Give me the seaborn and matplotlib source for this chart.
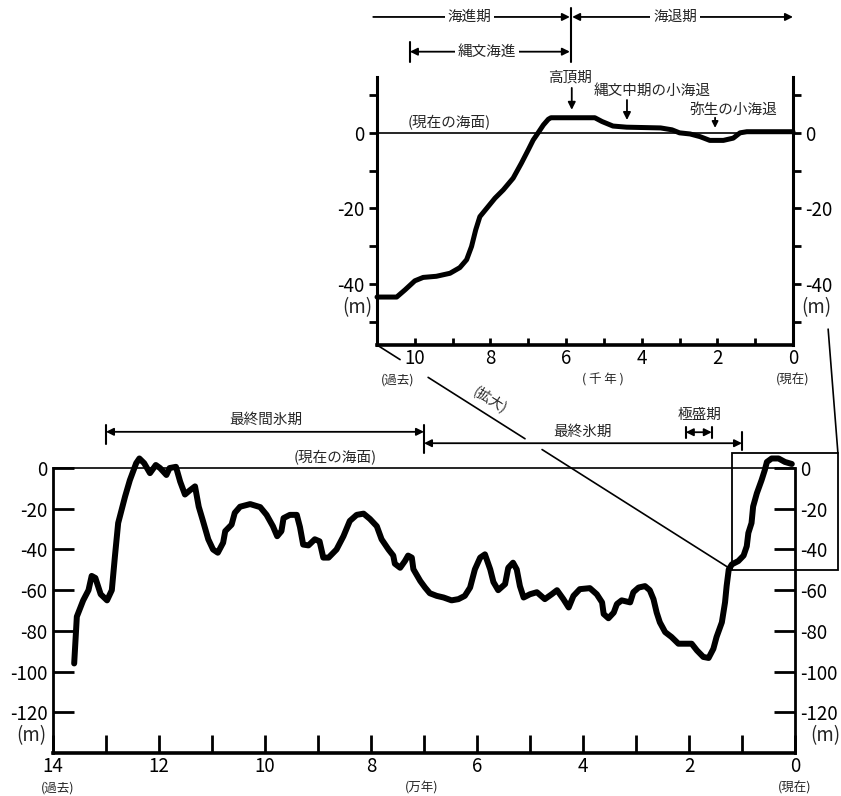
import matplotlib
matplotlib.use('Agg')
import matplotlib.pyplot as plt
import seaborn as sns
import pandas as pd
from matplotlib.patches import Rectangle, ConnectionPatch
from matplotlib.lines import Line2D

# 過去14万年の海水準変動 (万年前, m)
main_t = [13.60, 13.55, 13.43, 13.33, 13.27, 13.20, 13.10, 12.98, 12.89, 12.83,
          12.77, 12.64, 12.55, 12.43, 12.37, 12.28, 12.17, 12.06, 11.98, 11.86,
          11.80, 11.68, 11.60, 11.51, 11.42, 11.32, 11.25, 11.17, 11.07, 10.98,
          10.89, 10.79, 10.75, 10.63, 10.57, 10.47, 10.28, 10.09, 9.97, 9.85,
          9.77, 9.69, 9.65, 9.53, 9.40, 9.34, 9.28, 9.18, 9.06, 8.97,
          8.90, 8.80, 8.65, 8.52, 8.40, 8.27, 8.14, 8.02, 7.89, 7.80,
          7.67, 7.58, 7.55, 7.45, 7.36, 7.30, 7.23, 7.20, 7.07, 6.98,
          6.89, 6.76, 6.63, 6.48, 6.35, 6.23, 6.13, 6.04, 5.94, 5.85,
          5.75, 5.69, 5.60, 5.47, 5.41, 5.32, 5.25, 5.19, 5.12, 5.00,
          4.87, 4.72, 4.59, 4.49, 4.37, 4.27, 4.18, 4.06, 3.87, 3.74,
          3.64, 3.61, 3.52, 3.42, 3.36, 3.27, 3.11, 3.05, 2.95, 2.83,
          2.74, 2.67, 2.61, 2.55, 2.45, 2.33, 2.20, 1.95, 1.85, 1.73,
          1.63, 1.54, 1.48, 1.38, 1.32, 1.29, 1.25, 1.19, 1.07, 0.97,
          0.91, 0.88, 0.82, 0.79, 0.72, 0.63, 0.57, 0.53, 0.44, 0.31,
          0.19, 0.06]
main_sea = [-96, -73, -65, -60, -53, -54, -62, -65, -60, -43,
            -27, -14, -6, 2.4, 4.7, 2.4, -2.5, 1.5, 0, -3.4,
            0, 0.6, -6.7, -13, -11, -9, -19, -26, -35, -40,
            -41.6, -36.7, -31, -27.8, -22, -19, -17.7, -19.2, -23, -28.6,
            -33.5, -31, -24.6, -23, -23, -29, -37.6, -38, -35, -36,
            -44, -44, -40, -33.5, -26, -23, -22.4, -25, -28.6, -35,
            -40, -43, -47, -49, -45.7, -43, -44, -49.7, -55.5, -58.7,
            -61.5, -62.8, -63.6, -65, -64.4, -62.8, -58.7, -49.8, -44, -42.4,
            -49.8, -56, -60, -57, -49, -46.5, -49.8, -58, -63.6, -62,
            -61, -64.4, -62, -60, -64.4, -68.5, -62.8, -59.5, -59, -62,
            -66, -71.7, -73.8, -71, -66.8, -65, -66, -61, -58.7, -58,
            -60, -64.4, -71, -75.8, -80.6, -83, -86.3, -86.3, -89.6, -92.8,
            -93.3, -88.8, -83, -75.8, -66, -58, -49.8, -47.3, -45.7, -43,
            -38.4, -31.9, -27, -18.9, -12.4, -5.9, -1, 3, 4.7, 4.7,
            3, 2]

# 過去1.1万年 (千年前, m)
zoom_t = [11.0, 10.48, 10.26, 10.0, 9.78, 9.43, 9.07, 8.81, 8.63, 8.50,
          8.39, 8.28, 8.10, 7.88, 7.66, 7.40, 7.18, 7.00, 6.87, 6.74,
          6.60, 6.47, 6.40, 5.24, 5.05, 4.76, 4.40, 3.50, 3.20, 3.00,
          2.72, 2.46, 2.20, 1.84, 1.58, 1.40, 1.22, 0.0]
zoom_sea = [-43.5, -43.5, -41.6, -39.2, -38.3, -38, -37.2, -35.7, -33.6, -30.1,
            -25.7, -22.2, -20, -17.3, -15.1, -12, -8, -4.5, -1.9, 0,
            2.1, 3.6, 4.0, 4.0, 3.0, 1.8, 1.5, 1.3, 0.8, 0,
            -0.3, -1, -2, -2, -1.4, 0, 0.3, 0.3]

main_xticks = [14, 12, 10, 8, 6, 4, 2, 0]
main_xminor = [13, 11, 9, 7, 5, 3, 1]
main_yticks = [0, -20, -40, -60, -80, -100, -120]
zoom_xticks = [10, 8, 6, 4, 2, 0]
zoom_xminor = [9, 7, 5, 3, 1]
zoom_yticks = [0, -20, -40]
zoom_yminor = [10, -10, -30, -50]

sns.set_theme(style='ticks')
plt.rcParams['font.family'] = ['Noto Sans CJK JP', 'DejaVu Sans']
plt.rcParams['axes.unicode_minus'] = False

fig = plt.figure(figsize=(8.41, 7.96), dpi=100)
ax = fig.add_axes([0.0630, 0.0540, 0.8823, 0.3580])
ins = fig.add_axes([0.4483, 0.5666, 0.4946, 0.3367])

K = 'black'
JP = 10.5
SMALL = 9
NUM = 13.5


def arrow(a, x0, x1, y, style):
    a.annotate('', xy=(x1, y), xytext=(x0, y), annotation_clip=False,
               arrowprops=dict(arrowstyle=style, color=K, lw=1.3, shrinkA=0,
                               shrinkB=0, mutation_scale=11))


def bar(a, x, y0, y1):
    a.plot([x, x], [y0, y1], color=K, lw=1.5, clip_on=False)


# ---- 下: 14万年 ----
df_main = pd.DataFrame({'t': main_t, 'sea': main_sea})
sns.lineplot(data=df_main, x='t', y='sea', ax=ax, color=K, lw=4.3,
             sort=False, estimator=None, clip_on=False)
ax.axhline(0, color=K, lw=1.2, clip_on=False)
ax.set_xlim(14, 0)
ax.set_ylim(-140, 0)
ax.set_xticks(main_xticks)
ax.set_xticklabels([str(v) for v in main_xticks])
ax.set_xticks(main_xminor, minor=True)
ax.set_yticks(main_yticks)
ax.set_yticklabels([str(v) for v in main_yticks])
ax.tick_params(axis='x', which='both', direction='in', length=13, width=2,
               pad=2, labelsize=NUM, color=K, labelcolor=K)
ax.tick_params(axis='y', which='major', direction='in', length=15, width=2,
               left=True, right=True, labelleft=True, labelright=True,
               pad=4, labelsize=NUM, color=K, labelcolor=K)
ax.spines['top'].set_visible(False)
for s, w in [('left', 2), ('right', 2), ('bottom', 2.6)]:
    ax.spines[s].set_color(K)
    ax.spines[s].set_linewidth(w)
ax.set_xlabel('')
ax.set_ylabel('')

ax.text(14.4, -131.7, '(m)', fontsize=NUM, ha='center', va='center')
ax.text(-0.57, -131.7, '(m)', fontsize=NUM, ha='center', va='center')
ax.text(13.92, -157, '(過去)', fontsize=SMALL, ha='center', va='center')
ax.text(7.04, -157, '(万年)', fontsize=SMALL, ha='center', va='center')
ax.text(0.0, -157, '(現在)', fontsize=SMALL, ha='center', va='center')
ax.text(8.68, 4.9, '(現在の海面)', fontsize=JP, ha='center', va='center')

arrow(ax, 13.0, 7.0, 17.8, '<|-|>')
bar(ax, 13.0, 12, 21)
bar(ax, 7.0, 7.3, 21)
ax.text(9.98, 23.5, '最終間氷期', fontsize=JP, ha='center', va='center')
arrow(ax, 7.0, 1.0, 12.2, '<|-|>')
bar(ax, 1.0, 8.8, 17.6)
ax.text(4.0, 17.6, '最終氷期', fontsize=JP, ha='center', va='center')
arrow(ax, 2.06, 1.57, 17.6, '<|-|>')
bar(ax, 2.06, 14.7, 20)
bar(ax, 1.57, 14.7, 20)
ax.text(1.81, 26, '極盛期', fontsize=JP, ha='center', va='center')

ax.add_patch(Rectangle((-0.81, -50), 2.0, 57.3, fill=False, ec=K, lw=1.3,
                       clip_on=False))

# ---- 上: 拡大図 ----
df_zoom = pd.DataFrame({'t': zoom_t, 'sea': zoom_sea})
sns.lineplot(data=df_zoom, x='t', y='sea', ax=ins, color=K, lw=3.6,
             sort=False, estimator=None, clip_on=False)
ins.axhline(0, color=K, lw=1.2)
ins.set_xlim(11, 0)
ins.set_ylim(-56.2, 14.8)
ins.set_xticks(zoom_xticks)
ins.set_xticklabels([str(v) for v in zoom_xticks])
ins.set_xticks(zoom_xminor, minor=True)
ins.set_yticks(zoom_yticks)
ins.set_yticklabels([str(v) for v in zoom_yticks])
ins.set_yticks(zoom_yminor, minor=True)
ins.tick_params(axis='x', which='both', direction='in', length=5, width=2,
                pad=2, labelsize=NUM, color=K, labelcolor=K)
ins.tick_params(axis='y', which='both', direction='out', length=6, width=2,
                left=True, right=True, labelleft=True, labelright=True,
                pad=3, labelsize=NUM, color=K, labelcolor=K)
ins.spines['top'].set_visible(False)
for s, w in [('left', 2.2), ('right', 2.2), ('bottom', 2.6)]:
    ins.spines[s].set_color(K)
    ins.spines[s].set_linewidth(w)
ins.set_xlabel('')
ins.set_ylabel('')

ins.text(11.53, -46.4, '(m)', fontsize=NUM, ha='center', va='center')
ins.text(-0.63, -46.4, '(m)', fontsize=NUM, ha='center', va='center')
ins.text(10.45, -65.5, '(過去)', fontsize=SMALL, ha='center', va='center')
ins.text(5.03, -65.5, '( 千 年 )', fontsize=SMALL, ha='center', va='center')
ins.text(0.0, -65.5, '(現在)', fontsize=SMALL, ha='center', va='center')
ins.text(9.1, 2.6, '(現在の海面)', fontsize=JP, ha='center', va='center')

white = dict(fc='white', ec='none', pad=2)
arrow(ins, 11.1, 5.9, 30.7, '-|>')
ins.text(8.55, 30.7, '海進期', fontsize=JP, ha='center', va='center', bbox=white)
arrow(ins, 5.84, 0.0, 30.7, '<|-|>')
ins.text(3.12, 30.7, '海退期', fontsize=JP, ha='center', va='center', bbox=white)
bar(ins, 5.87, 18.8, 33)
arrow(ins, 10.13, 5.9, 21.5, '<|-|>')
bar(ins, 10.13, 18.8, 24)
ins.text(8.1, 21.5, '縄文海進', fontsize=JP, ha='center', va='center', bbox=white)

ins.text(5.9, 14.6, '高頂期', fontsize=JP, ha='center', va='center')
ins.annotate('', xy=(5.85, 6.1), xytext=(5.85, 11.9), annotation_clip=False,
             arrowprops=dict(arrowstyle='-|>', color=K, lw=1.3, shrinkA=0,
                             shrinkB=0, mutation_scale=11))
ins.text(3.73, 11.1, '縄文中期の小海退', fontsize=JP, ha='center', va='center')
ins.annotate('', xy=(4.39, 3.4), xytext=(4.39, 8.7), annotation_clip=False,
             arrowprops=dict(arrowstyle='-|>', color=K, lw=1.3, shrinkA=0,
                             shrinkB=0, mutation_scale=11))
ins.text(1.59, 6.1, '弥生の小海退', fontsize=JP, ha='center', va='center')
ins.annotate('', xy=(2.06, 1.3), xytext=(2.06, 4.0), annotation_clip=False,
             arrowprops=dict(arrowstyle='-|>', color=K, lw=1.3, shrinkA=0,
                             shrinkB=0, mutation_scale=9))

# ---- 拡大の引き出し線 ----
inv = fig.transFigure.inverted()
p1 = inv.transform(ins.transData.transform((11, -56.2)))
p2 = inv.transform(ax.transData.transform((1.19, -50)))
for f0, f1 in [(0.0, 0.065), (0.144, 0.417), (0.465, 1.0)]:
    xs = [p1[0] + (p2[0] - p1[0]) * f0, p1[0] + (p2[0] - p1[0]) * f1]
    ys = [p1[1] + (p2[1] - p1[1]) * f0, p1[1] + (p2[1] - p1[1]) * f1]
    fig.add_artist(Line2D(xs, ys, color=K, lw=1.2))
fig.text(490 / 841, 1 - 400 / 796, '(拡大)', fontsize=10, rotation=-32,
         ha='center', va='center')
con = ConnectionPatch(xyA=(-0.93, -52), coordsA=ins.transData,
                      xyB=(-0.81, 7.3), coordsB=ax.transData, color=K, lw=1.2)
fig.add_artist(con)

fig.savefig('out.png', dpi=100, facecolor='white')
